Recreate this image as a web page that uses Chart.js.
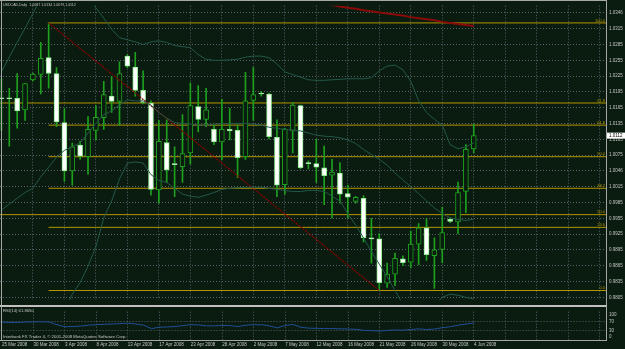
<!DOCTYPE html>
<html>
<head>
<meta charset="utf-8">
<script src="https://cdn.jsdelivr.net/npm/chart.js@4.4.0/dist/chart.umd.min.js"></script>
<style>
  html, body { margin: 0; padding: 0; background: #0a1c0f; }
  #wrap { position: relative; width: 625px; height: 349px; overflow: hidden; background: #0a1c0f; }
  #main { position: absolute; left: 0; top: 0; }
  #rsi { position: absolute; left: 0; top: 306px; }
</style>
</head>
<body>
<div id="wrap">
  <canvas id="main" width="625" height="306"></canvas>
  <canvas id="rsi" width="625" height="43"></canvas>
</div>
<script>
// USDCAD daily bars, 25 Mar 2008 .. 4 Jun 2008
const opens  = [1.0184,1.0183,1.0183,1.0161,1.0218,1.0228,1.0260,1.0230,1.0137,1.0045,
                1.0094,1.0072,1.0122,1.0146,1.0187,1.0177,1.0263,1.0242,1.0198,1.0174,
                1.0009,1.0099,1.0058,1.0053,1.0079,1.0167,1.0143,1.0124,1.0100,1.0124,
                1.0122,1.0072,1.0179,1.0192,1.0191,1.0109,1.0019,1.0122,1.0169,1.0060,
                1.0059,1.0051,1.0037,1.0041,1.0002,0.9987,0.9993,0.9917,0.9916,0.9832,
                0.9849,0.9878,0.9872,0.9906,0.9937,0.9884,0.9896,0.9953,0.9948,1.0006,1.0087];
const highs  = [1.0220,1.0202,1.0230,1.0211,1.0231,1.0289,1.0326,1.0241,1.0163,1.0098,
                1.0101,1.0148,1.0169,1.0215,1.0224,1.0252,1.0266,1.0270,1.0235,1.0178,
                1.0141,1.0142,1.0091,1.0152,1.0212,1.0207,1.0202,1.0132,1.0181,1.0164,
                1.0132,1.0232,1.0241,1.0196,1.0193,1.0142,1.0126,1.0175,1.0170,1.0064,
                1.0105,1.0092,1.0067,1.0061,1.0018,0.9997,0.9998,0.9955,0.9926,0.9870,
                0.9889,0.9884,0.9931,0.9945,0.9955,0.9918,0.9976,0.9956,1.0024,1.0095,1.0134];
const lows   = [1.0122,1.0092,1.0126,1.0141,1.0216,1.0191,1.0202,1.0129,1.0025,1.0018,
                1.0067,1.0039,1.0104,1.0124,1.0156,1.0132,1.0241,1.0187,1.0172,0.9999,
                0.9984,1.0023,0.9996,1.0023,1.0058,1.0119,1.0129,1.0095,1.0066,1.0104,
                1.0032,1.0067,1.0141,1.0187,1.0106,0.9996,1.0001,1.0079,1.0049,1.0049,
                1.0023,0.9981,0.9956,0.9984,0.9956,0.9984,0.9910,0.9870,0.9818,0.9824,
                0.9827,0.9865,0.9861,0.9867,0.9875,0.9822,0.9871,0.9947,0.9926,0.9966,1.0079];
const closes = [1.0182,1.0182,1.0159,1.0211,1.0229,1.0259,1.0230,1.0138,1.0045,1.0091,
                1.0073,1.0124,1.0147,1.0190,1.0177,1.0230,1.0244,1.0198,1.0175,1.0010,
                1.0101,1.0047,1.0057,1.0078,1.0169,1.0143,1.0161,1.0100,1.0124,1.0121,
                1.0070,1.0178,1.0190,1.0191,1.0110,1.0018,1.0124,1.0170,1.0051,1.0059,
                1.0052,1.0036,1.0043,1.0001,0.9995,0.9995,0.9918,0.9916,0.9833,0.9849,
                0.9879,0.9871,0.9906,0.9937,0.9886,0.9895,0.9928,0.9949,1.0004,1.0086,1.0112];

// Bollinger bands
const upperBand  = [1.0233,1.0261,1.0289,1.0316,1.0344,1.0372,1.0388,1.0395,1.0396,1.0393,
                    1.0386,1.0372,1.0355,1.0335,1.0314,1.0298,1.0294,1.0290,1.0285,1.0290,
                    1.0292,1.0289,1.0283,1.0281,1.0279,1.0266,1.0257,1.0255,1.0255,1.0256,
                    1.0257,1.0261,1.0263,1.0263,1.0260,1.0248,1.0233,1.0228,1.0223,1.0218,
                    1.0217,1.0217,1.0218,1.0219,1.0220,1.0220,1.0220,1.0222,1.0235,1.0244,
                    1.0246,1.0237,1.0215,1.0178,1.0156,1.0143,1.0132,1.0095,1.0087,1.0091,1.0098];
const middleBand = [0.9971,0.9982,0.9993,1.0004,1.0012,1.0034,1.0052,1.0071,1.0084,1.0091,
                    1.0098,1.0117,1.0135,1.0152,1.0159,1.0170,1.0180,1.0178,1.0178,1.0170,
                    1.0156,1.0145,1.0137,1.0135,1.0134,1.0132,1.0132,1.0134,1.0135,1.0135,
                    1.0135,1.0135,1.0134,1.0132,1.0128,1.0126,1.0124,1.0122,1.0121,1.0117,
                    1.0113,1.0111,1.0110,1.0108,1.0104,1.0097,1.0086,1.0076,1.0067,1.0056,
                    1.0041,1.0028,1.0015,1.0002,0.9988,0.9975,0.9964,0.9956,0.9953,0.9951,0.9953];
const lowerBand  = [0.9709,0.9703,0.9697,0.9692,0.9680,0.9696,0.9716,0.9747,0.9776,0.9811,
                    0.9833,0.9864,0.9901,0.9956,0.9988,1.0030,1.0060,1.0062,1.0060,1.0038,
                    1.0027,1.0023,1.0012,1.0001,0.9997,0.9995,0.9999,1.0004,1.0010,1.0012,
                    1.0013,1.0014,1.0014,1.0014,1.0012,1.0010,1.0008,1.0006,1.0006,1.0008,
                    1.0008,1.0006,0.9997,0.9988,0.9964,0.9942,0.9918,0.9892,0.9868,0.9844,
                    0.9818,0.9792,0.9781,0.9776,0.9778,0.9790,0.9805,0.9811,0.9809,0.9805,0.9802];
// slow moving average (red), only bars 40..60 reach the window
const slowMA = [null,null,null,null,null,null,null,null,null,null,
                null,null,null,null,null,null,null,null,null,null,
                null,null,null,null,null,null,null,null,null,null,
                null,null,null,null,null,null,null,null,null,null,
                1.0366,1.0363,1.0360,1.0357,1.0355,1.0353,1.0350,1.0348,1.0346,1.0344,
                1.0342,1.0340,1.0337,1.0335,1.0333,1.0331,1.0328,1.0326,1.0324,1.0322,1.0320];

const rsiValues = [66,65,65,67,67,68,67,55,46,47,49,53,55,57,58,60,62,58,53,38,
                   44,45,47,51,55,54,50,50,52,51,47,53,55,55,50,41,52,56,44,40,
                   39,38,38,37,36,35,30,29,27,30,32,31,34,37,34,36,42,46,53,58,63];

// fibonacci A: swing high (bar 6) to swing low (bar 48)
const fibABars = [6, 48];
const fibAPrices = [1.0326, 0.9818];
const fibALevels = [100, 61.8, 50, 38.2, 23.6, 0];
// fibonacci B: only two of its levels fall inside the window
const fibBLevels = [61.8, 50.0];
const fibBPrices = [1.0174, 0.9962];
// trendline
const trendBars = [6, 48];
const trendPrices = [1.0326, 0.9818];

const dateLabels = ['25 Mar 2008','30 Mar 2008','3 Apr 2008','8 Apr 2008','13 Apr 2008','17 Apr 2008',
                    '23 Apr 2008','28 Apr 2008','2 May 2008','7 May 2008','12 May 2008','16 May 2008',
                    '21 May 2008','26 May 2008','30 May 2008','4 Jun 2008'];
const priceTicks = [1.0345,1.0315,1.0285,1.0255,1.0225,1.0195,1.0165,1.0135,1.0105,1.0075,
                    1.0045,1.0015,0.9985,0.9955,0.9925,0.9895,0.9865,0.9835,0.9805];
const priceTickLabels = ['1.0346','1.0315','1.0285','1.0255','1.0225','1.0195','1.0165','1.0135','1.0105','1.0075',
                         '1.0046','1.0015','0.9985','0.9955','0.9925','0.9895','0.9865','0.9835','0.9805'];
const rsiTicks = [100, 70, 30, 0];
const rsiLevels = [70, 30];

const bg = '#0a1c0f';
const green = '#1ea01e';
const fibColor = '#b39500';
const bandColor = '#24584a';
const gridColor = '#59606e';
const textColor = '#c4c4c4';
const fontFamily = "'Liberation Sans', Arial, sans-serif";
const xMin = -0.18, xMax = 76.8;
const gridBars = [];
for (let b = 0; b <= 76; b += 4) gridBars.push(b);

const idx = opens.map((_, i) => i);
const series = arr => idx.map(i => ({x: i, y: arr[i]}));
const hline = (fromX, price) => [{x: fromX, y: price}, {x: xMax + 2, y: price}];

const fibA = fibALevels.map(l => ({label: l.toFixed(1), price: fibAPrices[1] + (fibAPrices[0] - fibAPrices[1]) * l / 100}));
const fibB = fibBLevels.map((l, i) => ({label: l.toFixed(1), price: fibBPrices[i]}));

const lineDs = (data, color, width, order, extra) => Object.assign({
  type: 'line', data, borderColor: color, borderWidth: width, pointRadius: 0,
  tension: 0, fill: false, spanGaps: false, order
}, extra || {});

const datasets = [
  {
    type: 'bar',
    data: idx.map(i => ({x: i, y: [Math.min(opens[i], closes[i]), Math.max(opens[i], closes[i])]})),
    backgroundColor: idx.map(i => closes[i] >= opens[i] ? bg : '#ffffff'),
    borderColor: idx.map(i => closes[i] >= opens[i] ? green : '#8ee88e'),
    borderWidth: 1, borderSkipped: false, barThickness: 5, minBarLength: 1,
    grouped: false, order: 2
  },
  {
    type: 'bar',
    data: idx.map(i => ({x: i, y: [lows[i], highs[i]]})),
    backgroundColor: green, borderWidth: 0, barThickness: 1,
    grouped: false, order: 3
  },
  lineDs(series(upperBand), bandColor, 1, 1),
  lineDs(series(middleBand), bandColor, 1, 1),
  lineDs(series(lowerBand), bandColor, 1, 1),
  lineDs(series(slowMA), '#8a0a0a', 2, 1),
  lineDs([{x: trendBars[0], y: trendPrices[0]}, {x: trendBars[1], y: trendPrices[1]}], '#8c0000', 1.2, 1, {borderDash: [2, 1]})
];
fibA.forEach(f => datasets.push(lineDs(hline(fibABars[0], f.price), fibColor, 1, 4)));
fibB.forEach(f => datasets.push(lineDs(hline(xMin - 1, f.price), fibColor, 1, 4)));

const mainDecor = {
  id: 'mainDecor',
  afterDatasetsDraw(chart) {
    const {ctx, chartArea: a, scales: {y}} = chart;
    ctx.save();
    ctx.font = '4px ' + fontFamily;
    ctx.fillStyle = fibColor;
    ctx.textAlign = 'right';
    ctx.textBaseline = 'bottom';
    fibA.concat(fibB).forEach(f => ctx.fillText(f.label, a.right - 1, y.getPixelForValue(f.price) - 0.5));
    ctx.restore();
  },
  afterDraw(chart) {
    const {ctx, chartArea: a, scales: {y}} = chart;
    ctx.save();
    ctx.fillStyle = '#a8a8a8';
    ctx.fillRect(0, 0, a.right + 1, 1);
    ctx.fillRect(1, 0, 1, 306);
    ctx.fillRect(a.right, 0, 1, 306);
    ctx.fillStyle = '#c0c0c0';
    ctx.fillRect(0, 305, a.right + 1, 1);
    // title
    ctx.font = '3.6px ' + fontFamily;
    ctx.fillStyle = textColor;
    ctx.textAlign = 'left';
    ctx.textBaseline = 'top';
    const last = opens.length - 1;
    ctx.fillText('USDCAD,Daily  ' + [opens[last], highs[last], lows[last], closes[last]].map(v => v.toFixed(4)).join(' '), 3, 3);
    // last price box
    const py = y.getPixelForValue(closes[last]);
    ctx.fillStyle = '#ffffff';
    ctx.fillRect(a.right + 1, py - 3, 18, 6);
    ctx.fillStyle = '#000000';
    ctx.font = '4.5px ' + fontFamily;
    ctx.textBaseline = 'middle';
    ctx.fillText(closes[last].toFixed(4), a.right + 3, py);
    ctx.restore();
  }
};

const xGrid = {
  type: 'linear', min: xMin, max: xMax, offset: false,
  grid: {color: gridColor, lineWidth: 1, drawTicks: false, offset: false},
  border: {display: false, dash: [1, 2]},
  afterBuildTicks: s => { s.ticks = gridBars.map(v => ({value: v})); }
};

new Chart(document.getElementById('main'), {
  type: 'bar',
  data: {datasets},
  options: {
    responsive: false, animation: false, events: [],
    layout: {padding: {left: 0, top: 2, right: 0, bottom: 1}},
    plugins: {legend: {display: false}, tooltip: {enabled: false}},
    scales: {
      x: Object.assign({}, xGrid, {
        ticks: {display: false},
        afterFit: s => { s.height = 0; }
      }),
      y: {
        type: 'linear', position: 'right', min: 0.97994, max: 1.03587,
        grid: {color: gridColor, lineWidth: 1, drawTicks: false},
        border: {display: false, dash: [1, 2]},
        afterBuildTicks: s => { s.ticks = priceTicks.map(v => ({value: v})); },
        afterFit: s => { s.width = 19; },
        ticks: {
          padding: 3, color: textColor, font: {size: 4.5, family: fontFamily},
          callback: (v, i) => priceTickLabels[i]
        }
      }
    }
  },
  plugins: [mainDecor]
});

const rsiDecor = {
  id: 'rsiDecor',
  afterDraw(chart) {
    const {ctx, chartArea: a} = chart;
    ctx.save();
    ctx.fillStyle = '#c0c0c0';
    ctx.fillRect(0, 0, a.right + 1, 1);
    ctx.fillStyle = '#a8a8a8';
    ctx.fillRect(0, a.bottom, a.right + 1, 1);
    ctx.fillRect(1, 0, 1, a.bottom);
    ctx.fillRect(a.right, 0, 1, a.bottom + 1);
    ctx.font = '4.2px ' + fontFamily;
    ctx.fillStyle = textColor;
    ctx.textAlign = 'left';
    ctx.textBaseline = 'top';
    ctx.fillText('RSI(14) 61.8650', 3, 2.5);
    ctx.font = '4.3px ' + fontFamily;
    ctx.fillText('Interbank FX Trader 4, \u00a9 2001-2008 MetaQuotes Software Corp.', 3, 28.3);
    ctx.restore();
  }
};

new Chart(document.getElementById('rsi'), {
  type: 'line',
  data: {
    datasets: [lineDs(series(rsiValues), '#1f4f98', 1, 0)]
  },
  options: {
    responsive: false, animation: false, events: [],
    layout: {padding: {left: 0, top: 1, right: 0, bottom: 0}},
    plugins: {legend: {display: false}, tooltip: {enabled: false}},
    scales: {
      x: Object.assign({}, xGrid, {
        afterFit: s => { s.height = 9; },
        ticks: {
          display: true, align: 'start', padding: 2, maxRotation: 0, autoSkip: false,
          color: textColor, font: {size: 4.5, family: fontFamily},
          callback: v => dateLabels[v / 4] || ''
        }
      }),
      y: {
        type: 'linear', position: 'right', min: -12, max: 112,
        grid: {color: ctx => rsiLevels.includes(ctx.tick && ctx.tick.value) ? gridColor : 'rgba(0,0,0,0)', drawTicks: false},
        border: {display: false, dash: [1, 2]},
        afterBuildTicks: s => { s.ticks = rsiTicks.map(v => ({value: v})); },
        afterFit: s => { s.width = 19; },
        ticks: {padding: 3, color: textColor, font: {size: 4.5, family: fontFamily}}
      }
    }
  },
  plugins: [rsiDecor]
});
</script>
</body>
</html>
